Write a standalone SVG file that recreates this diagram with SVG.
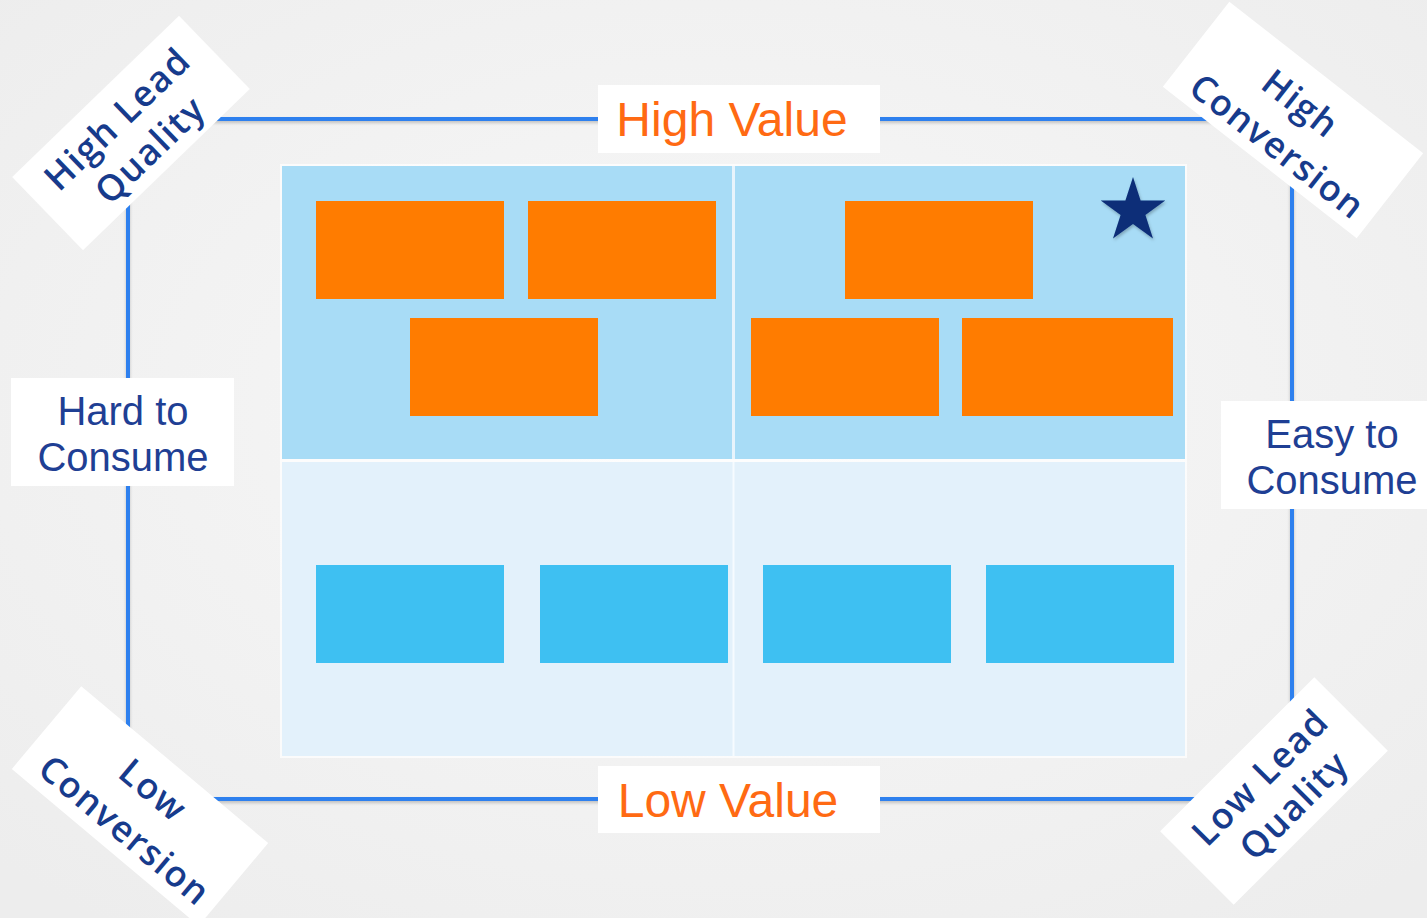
<svg xmlns="http://www.w3.org/2000/svg" width="1427" height="918" viewBox="0 0 1427 918">
  <defs>
    <radialGradient id="bg" cx="50%" cy="45%" r="70%">
      <stop offset="0" stop-color="#f8f8f8"/>
      <stop offset="1" stop-color="#ededed"/>
    </radialGradient>
    <filter id="sh" x="-20%" y="-20%" width="140%" height="140%">
      <feDropShadow dx="1" dy="2" stdDeviation="1.5" flood-color="#000" flood-opacity="0.25"/>
    </filter>
    <filter id="lsh" x="-5%" y="-5%" width="110%" height="110%">
      <feDropShadow dx="0" dy="2" stdDeviation="1.5" flood-color="#000" flood-opacity="0.2"/>
    </filter>
  </defs>
  <style>
    .frame { fill: none; stroke: #2f80ee; stroke-width: 4; }
    .box { fill: #ffffff; }
    .val { font-family: "Liberation Sans", Arial, sans-serif; font-size: 48px; fill: #ff6a13; text-anchor: middle; }
    .side { font-family: "Liberation Sans", Arial, sans-serif; font-size: 40px; fill: #1f3f94; text-anchor: middle; }
    .corner { font-family: "Open Sans", "Noto Sans", sans-serif; font-weight: 600; font-size: 36px; letter-spacing: 1.5px; fill: #173b8c; text-anchor: middle; }
    .orange { fill: #ff7c00; }
    .cyan { fill: #3ec0f2; }
  </style>

  <rect width="1427" height="918" fill="url(#bg)"/>

  <g id="connectors">
    <rect class="frame" x="128" y="119" width="1164" height="680" rx="3" filter="url(#lsh)"/>
  </g>

  <g id="matrix">
    <rect x="280" y="164" width="907" height="594" fill="#ffffff" opacity="0.7"/>
    <rect x="282" y="166" width="903" height="293" fill="#a8dcf6"/>
    <rect x="282" y="462" width="903" height="294" fill="#e3f1fb"/>
    <line x1="733.5" y1="166" x2="733.5" y2="459" stroke="#e8f4fc" stroke-width="3"/>
    <line x1="733.5" y1="462" x2="733.5" y2="756" stroke="#f6fbff" stroke-width="2"/>
  </g>

  <g id="high-items">
    <rect class="orange" x="316" y="201" width="188" height="98"/>
    <rect class="orange" x="528" y="201" width="188" height="98"/>
    <rect class="orange" x="410" y="318" width="188" height="98"/>
    <rect class="orange" x="845" y="201" width="188" height="98"/>
    <rect class="orange" x="751" y="318" width="188" height="98"/>
    <rect class="orange" x="962" y="318" width="211" height="98"/>
  </g>

  <g id="low-items">
    <rect class="cyan" x="316" y="565" width="188" height="98"/>
    <rect class="cyan" x="540" y="565" width="188" height="98"/>
    <rect class="cyan" x="763" y="565" width="188" height="98"/>
    <rect class="cyan" x="986" y="565" width="188" height="98"/>
  </g>

  <g id="star">
    <polygon points="1133,177 1140.6,200.5 1165.3,200.5 1145.4,215 1153,238.5 1133,224 1113,238.5 1120.6,215 1100.7,200.5 1125.4,200.5" fill="#0c2f78" filter="url(#sh)"/>
  </g>

  <g id="high-value">
    <rect class="box" x="598" y="85" width="282" height="68"/>
    <text class="val" x="732" y="136">High Value</text>
  </g>

  <g id="low-value">
    <rect class="box" x="598" y="766" width="282" height="67"/>
    <text class="val" x="728" y="817">Low Value</text>
  </g>

  <g id="hard-to-consume">
    <rect class="box" x="11" y="378" width="223" height="108"/>
    <text class="side" x="123" y="425">Hard to</text>
    <text class="side" x="123" y="471">Consume</text>
  </g>

  <g id="easy-to-consume">
    <rect class="box" x="1221" y="401" width="206" height="108"/>
    <text class="side" x="1332" y="448">Easy to</text>
    <text class="side" x="1332" y="494">Consume</text>
  </g>

  <g id="high-lead-quality" transform="translate(131,133) rotate(-44)">
    <rect class="box" x="-116" y="-51" width="232" height="102"/>
    <text class="corner" x="0" y="-7">High Lead</text>
    <text class="corner" x="2" y="38">Quality</text>
  </g>

  <g id="high-conversion" transform="translate(1293,120) rotate(38)">
    <rect class="box" x="-123" y="-54" width="246" height="108"/>
    <text class="corner" x="-4" y="-5">High</text>
    <text class="corner" x="4" y="43">Conversion</text>
  </g>

  <g id="low-conversion" transform="translate(140,806) rotate(40)">
    <rect class="box" x="-122" y="-54" width="244" height="108"/>
    <text class="corner" x="0" y="-8">Low</text>
    <text class="corner" x="4" y="41">Conversion</text>
  </g>

  <g id="low-lead-quality" transform="translate(1274,791) rotate(-45)">
    <rect class="box" x="-109" y="-52" width="218" height="104"/>
    <text class="corner" x="0" y="-7">Low Lead</text>
    <text class="corner" x="4" y="37">Quality</text>
  </g>
</svg>
